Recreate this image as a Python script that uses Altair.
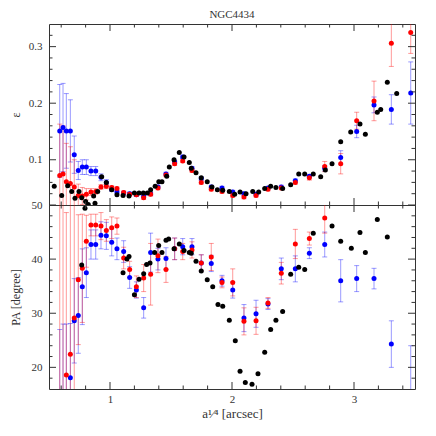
import altair as alt
import pandas as pd

# ---------------- data ----------------
# black points (own radii)
bk_eps_x = [0.543, 0.604, 0.653, 0.686, 0.713, 0.746, 0.768, 0.800, 0.822, 0.866, 0.877, 0.899,
            0.932, 0.970, 1.014, 1.057, 1.107, 1.156, 1.200, 1.238, 1.273, 1.306, 1.333, 1.370,
            1.400, 1.426, 1.465, 1.486, 1.525, 1.568, 1.607, 1.650, 1.666, 1.705, 1.748, 1.797,
            1.836, 1.880, 1.924, 1.978, 2.022, 2.066, 2.115, 2.170, 2.219, 2.268, 2.317, 2.360,
            2.415, 2.481, 2.547, 2.596, 2.666, 2.727, 2.765, 2.820, 2.891, 2.973, 3.049, 3.093,
            3.191, 3.219, 3.273, 3.350]
bk_eps = [0.053, 0.037, 0.054, 0.044, 0.032, 0.044, 0.033, 0.026, 0.021, 0.036, 0.023, 0.044,
          0.070, 0.060, 0.047, 0.038, 0.037, 0.036, 0.041, 0.041, 0.041, 0.041, 0.047, 0.053,
          0.061, 0.061, 0.071, 0.087, 0.100, 0.113, 0.105, 0.095, 0.085, 0.077, 0.068, 0.061,
          0.052, 0.047, 0.046, 0.044, 0.039, 0.043, 0.040, 0.044, 0.043, 0.049, 0.053, 0.051,
          0.049, 0.056, 0.075, 0.075, 0.075, 0.070, 0.082, 0.093, 0.132, 0.149, 0.163, 0.145,
          0.184, 0.189, 0.237, 0.217]

bk_pa_x = [0.768, 0.795, 1.107, 1.139, 1.156, 1.200, 1.238, 1.276, 1.300, 1.328, 1.366, 1.399,
           1.426, 1.459, 1.481, 1.525, 1.568, 1.607, 1.650, 1.666, 1.705, 1.748, 1.797, 1.842,
           1.885, 1.924, 1.978, 2.027, 2.066, 2.109, 2.164, 2.213, 2.268, 2.317, 2.360, 2.415,
           2.481, 2.547, 2.596, 2.666, 2.820, 2.891, 2.978, 3.049, 3.093, 3.191, 3.273]
bk_pa = [38.9, 49.4, 37.5, 40.0, 40.5, 33.4, 36.3, 37.3, 39.0, 39.3, 41.2, 42.5,
         41.2, 43.5, 43.7, 41.9, 42.8, 41.6, 41.2, 41.1, 39.6, 37.8, 36.2, 34.9,
         31.6, 31.3, 28.7, 24.9, 19.3, 17.2, 16.9, 18.8, 22.8, 27.0, 28.7, 30.3,
         37.2, 38.5, 38.1, 44.8, 46.1, 43.3, 42.0, 44.9, 41.2, 47.3, 44.1]

# red and blue points share the same radii
rb_x = [0.588, 0.615, 0.642, 0.675, 0.707, 0.740, 0.773, 0.806, 0.844, 0.883,
        0.926, 0.970, 1.014, 1.057, 1.112, 1.161, 1.216, 1.276, 1.333, 1.393,
        1.459, 1.530, 1.596, 1.672, 1.748, 1.830, 1.918, 2.006, 2.098, 2.197,
        2.295, 2.404, 2.519, 2.634, 2.760, 2.891, 3.022, 3.164, 3.306, 3.465]

red_eps = [0.072, 0.075, 0.061, 0.058, 0.052, 0.037, 0.036, 0.039, 0.043, 0.044,
           0.052, 0.053, 0.051, 0.049, 0.042, 0.039, 0.038, 0.033, 0.039, 0.050,
           0.073, 0.093, 0.098, 0.081, 0.060, 0.048, 0.044, 0.037, 0.034, 0.037,
           0.048, 0.050, 0.060, 0.068, 0.088, 0.093, 0.169, 0.204, 0.306, 0.325]
red_eps_err = [0.091, 0.085, 0.068, 0.065, 0.048, 0.020, 0.015, 0.010, 0.006, 0.005,
               0.004, 0.004, 0.003, 0.003, 0.003, 0.003, 0.003, 0.003, 0.003, 0.003,
               0.003, 0.003, 0.003, 0.003, 0.003, 0.003, 0.003, 0.003, 0.003, 0.003,
               0.003, 0.003, 0.003, 0.004, 0.009, 0.018, 0.015, 0.035, 0.041, 0.037]

blue_eps = [0.151, 0.157, 0.151, 0.151, 0.109, 0.081, 0.087, 0.087, 0.080, 0.080,
            0.069, 0.060, 0.048, 0.043, 0.041, 0.040, 0.038, 0.036, 0.040, 0.052,
            0.075, 0.096, 0.105, 0.085, 0.067, 0.052, 0.050, 0.043, 0.040, 0.039,
            0.050, 0.052, 0.063, 0.071, 0.085, 0.104, 0.150, 0.197, 0.189, 0.218]
blue_eps_err = [0.082, 0.078, 0.066, 0.055, 0.033, 0.016, 0.013, 0.013, 0.008, 0.008,
                0.006, 0.005, 0.004, 0.003, 0.003, 0.003, 0.003, 0.003, 0.003, 0.003,
                0.003, 0.003, 0.003, 0.003, 0.003, 0.003, 0.003, 0.003, 0.003, 0.003,
                0.003, 0.003, 0.003, 0.003, 0.005, 0.012, 0.011, 0.014, 0.026, 0.055]

red_pa = [10.0, 8.0, 18.6, 22.4, 29.1, 36.2, 38.3, 43.3, 46.3, 46.3,
          46.1, 45.3, 45.8, 46.1, 40.2, 38.1, 34.9, 36.5, 37.2, 40.6,
          38.1, 41.9, 41.4, 41.7, 39.3, 40.4, 35.7, 35.7, 28.5, 28.6,
          31.9, 37.4, 42.8, 43.8, 47.6, None, None, None, None, None]
red_pa_err = [45, 45, 30, 28, 22, 12, 10, 4.8, 2, 2,
              2.5, 2, 2, 1.5, 2, 1.5, 2, 2.5, 5.7, 3.1,
              2.4, 2, 1.5, 1.5, 1.5, 2.5, 1, 2.5, 2.5, 2.5,
              1, 2, 2.7, 1.2, 2.8, None, None, None, None, None]

blue_pa = [12, 12, 14, 18.1, 28.6, 29.6, 34.9, 37.5, 42.7, 42.7,
           44.4, 44.3, 43.1, 41.9, 41.4, 36.6, 34.3, 31.0, 41.2, 40.0,
           40.1, 41.9, 42.3, 42.3, 39.3, 39.2, 36.0, 34.3, 29.1, 29.9,
           31.7, 38.2, 38.2, 41.1, 42.7, 36.0, 36.4, 36.4, 24.3, 14]
blue_pa_err = [15, 16, 14, 10, 7.8, 7, 7, 4.6, 2.7, 2.7,
               2.5, 2.5, 2.5, 2, 2, 2, 1.5, 1.9, 3.6, 2,
               2, 2, 1.5, 1.5, 1.5, 1.5, 1, 1.5, 2.5, 2.5,
               1, 2, 2.4, 1.0, 2.3, 3.9, 2.4, 1.9, 4.3, 10]

# axis ticks
x_major = [1, 2, 3]
x_minor = [0.6, 0.8, 1.2, 1.4, 1.6, 1.8, 2.2, 2.4, 2.6, 2.8, 3.2, 3.4]
eps_major = [0.1, 0.2, 0.3]
eps_minor = [0.04, 0.06, 0.08, 0.12, 0.14, 0.16, 0.18, 0.22, 0.24, 0.26, 0.28, 0.32]
pa_major = [20, 30, 40, 50]
pa_minor = [18, 22, 24, 26, 28, 32, 34, 36, 38, 42, 44, 46, 48]

# ---------------- chart ----------------
FONT = "Liberation Serif"
AX = "#333333"
W, H1, H2 = 366, 181, 184
xs = alt.Scale(domain=[0.5, 3.5], nice=False, zero=False)


def rb_frame(vr, er, vb, eb):
    d = pd.DataFrame({"x": rb_x, "r": vr, "er": er, "b": vb, "eb": eb}).astype(float)
    d["r_lo"] = d["r"] - d["er"]
    d["r_hi"] = d["r"] + d["er"]
    d["b_lo"] = d["b"] - d["eb"]
    d["b_hi"] = d["b"] + d["eb"]
    return d


def panel(bx, by, d, ys, xaxis, yaxis, H, ymaj, ymin):
    def X(f):
        return alt.X(f, type="quantitative", scale=xs, axis=xaxis)

    def Y(f):
        return alt.Y(f, type="quantitative", scale=ys, axis=yaxis)

    base = alt.Chart(d)
    layers = []
    for key, col in (("b", "#0000ff"), ("r", "#ff0000")):
        layers.append(base.mark_rule(color=col, opacity=0.4, strokeWidth=1, clip=True).encode(
            x=X("x"), y=Y(key + "_lo"), y2=key + "_hi"))
        for end in ("_lo", "_hi"):
            layers.append(base.mark_tick(color=col, opacity=0.4, orient="horizontal", size=5,
                                         thickness=1, clip=True).encode(x=X("x"), y=Y(key + end)))
    layers.append(base.mark_circle(color="#0000ff", size=25, opacity=1, clip=True).encode(
        x=X("x"), y=Y("b")))
    layers.append(base.mark_circle(color="#ff0000", size=25, opacity=1, clip=True).encode(
        x=X("x"), y=Y("r")))
    bk = pd.DataFrame({"x": bx, "v": by})
    layers.append(alt.Chart(bk).mark_circle(color="#000000", size=25, opacity=1, clip=True).encode(
        x=X("x"), y=Y("v")))
    # inward ticks on all four sides
    for vals, ln in ((x_major, 7), (x_minor, 3.5)):
        t = alt.Chart(pd.DataFrame({"v": vals})).mark_rule(color=AX, strokeWidth=1)
        layers.append(t.encode(x=X("v"), y=alt.value(H), y2=alt.value(H - ln)))
        layers.append(t.encode(x=X("v"), y=alt.value(0), y2=alt.value(ln)))
    for vals, ln in ((ymaj, 7), (ymin, 3.5)):
        t = alt.Chart(pd.DataFrame({"v": vals})).mark_rule(color=AX, strokeWidth=1)
        layers.append(t.encode(y=Y("v"), x=alt.value(0), x2=alt.value(ln)))
        layers.append(t.encode(y=Y("v"), x=alt.value(W), x2=alt.value(W - ln)))
    return alt.layer(*layers).properties(width=W, height=H)


def yaxis(vals, fmt, title, **kw):
    return alt.Axis(values=vals, format=fmt, ticks=False, tickSize=0, domain=False, grid=False,
                    labelPadding=7, minExtent=24, maxExtent=24, title=title, titlePadding=3,
                    labelFlush=False, labelOverlap=False, **kw)


top = panel(bk_eps_x, bk_eps, rb_frame(red_eps, red_eps_err, blue_eps, blue_eps_err),
            alt.Scale(domain=[0.02, 0.34], nice=False, zero=False),
            None, yaxis(eps_major, ".1f", "ε"), H1, eps_major, eps_minor).properties(
    title=alt.TitleParams("NGC4434", anchor="middle", frame="group", offset=4))

xaxis_b = alt.Axis(values=x_major, format="d", ticks=False, tickSize=0, domain=False, grid=False,
                   labelPadding=4, title="a¹⁄⁴ [arcsec]", titlePadding=3, titleFontSize=13)
bottom = panel(bk_pa_x, bk_pa, rb_frame(red_pa, red_pa_err, blue_pa, blue_pa_err),
               alt.Scale(domain=[16, 50], nice=False, zero=False),
               xaxis_b, yaxis(pa_major, "d", "PA [degree]"), H2, pa_major, pa_minor)

chart = alt.vconcat(top, bottom, spacing=0, bounds="flush").properties(
    padding={"left": 0, "top": 0, "right": 5, "bottom": 5}
).configure_view(stroke=AX, strokeWidth=1).configure_axis(
    labelFont=FONT, titleFont=FONT, labelFontSize=11, titleFontSize=12,
    labelColor=AX, titleColor=AX, titleFontWeight="normal"
).configure_title(font=FONT, fontSize=11, fontWeight="normal", color=AX)

chart.save("out.html", embed_options={"renderer": "svg", "actions": False})
